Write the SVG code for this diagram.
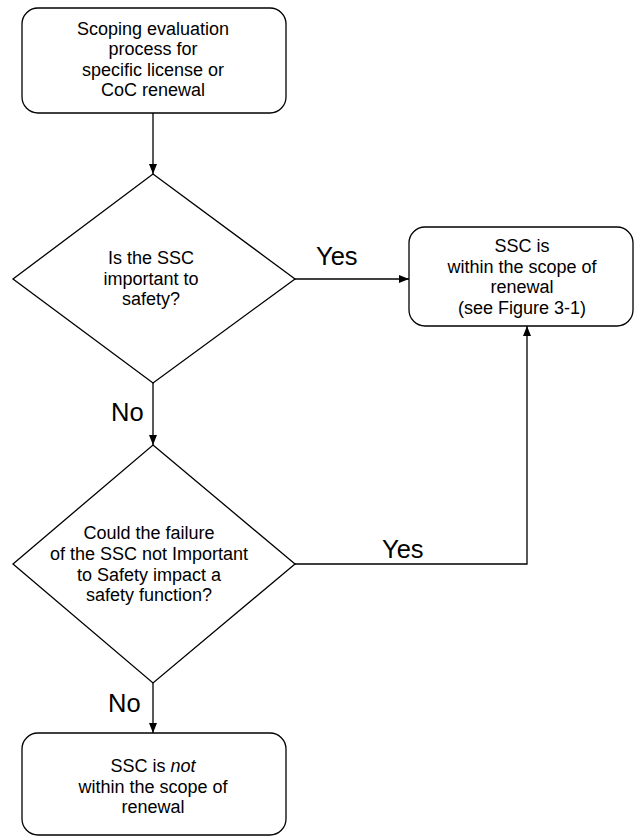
<svg xmlns="http://www.w3.org/2000/svg" width="635" height="837" viewBox="0 0 635 837">
<style>
.box{fill:#fff;stroke:#000;stroke-width:1.3}
.t{font-family:"Liberation Sans",Arial,sans-serif;font-size:18px;fill:#000;text-anchor:middle}
.lbl{font-family:"Liberation Sans",Arial,sans-serif;font-size:25.5px;fill:#000}
.c{fill:none;stroke:#000;stroke-width:1.3}
</style>
<defs>
<marker id="ah" viewBox="0 0 10 10" refX="10" refY="5" markerWidth="10" markerHeight="10" markerUnits="userSpaceOnUse" orient="auto">
<path d="M0,1 L10,5 L0,9 Z" fill="#000"/>
</marker>
</defs>
<g id="connectors">
<path class="c" d="M153,113 V174" marker-end="url(#ah)"/>
<path class="c" d="M295,279 H409" marker-end="url(#ah)"/>
<path class="c" d="M153,383 V445" marker-end="url(#ah)"/>
<path class="c" d="M295,564 H527 V326" marker-end="url(#ah)"/>
<path class="c" d="M153,683 V733" marker-end="url(#ah)"/>
<text class="lbl" x="316" y="265">Yes</text>
<text class="lbl" x="111" y="421">No</text>
<text class="lbl" x="382" y="558">Yes</text>
<text class="lbl" x="108" y="712">No</text>
</g>
<g id="start">
<rect class="box" x="22" y="8" width="264" height="105" rx="16"/>
<text class="t"><tspan x="153" y="35">Scoping evaluation</tspan><tspan x="153" y="55">process for</tspan><tspan x="153" y="76">specific license or</tspan><tspan x="153" y="96">CoC renewal</tspan></text>
</g>
<g id="decision1">
<polygon class="box" points="153,174 295,279 153,383 13,279"/>
<text class="t"><tspan x="151" y="264">Is the SSC</tspan><tspan x="151" y="285">important to</tspan><tspan x="151" y="305">safety?</tspan></text>
</g>
<g id="in-scope">
<rect class="box" x="409" y="227" width="224" height="99" rx="16"/>
<text class="t"><tspan x="522" y="252">SSC is</tspan><tspan x="522" y="273">within the scope of</tspan><tspan x="522" y="293">renewal</tspan><tspan x="522" y="314">(see Figure 3-1)</tspan></text>
</g>
<g id="decision2">
<polygon class="box" points="153,445 295,564 153,683 13,564"/>
<text class="t"><tspan x="149" y="539">Could the failure</tspan><tspan x="149" y="560">of the SSC not Important</tspan><tspan x="149" y="581">to Safety impact a</tspan><tspan x="149" y="601">safety function?</tspan></text>
</g>
<g id="not-in-scope">
<rect class="box" x="22" y="733" width="264" height="102" rx="16"/>
<text class="t"><tspan x="153" y="772">SSC is <tspan font-style="italic">not</tspan></tspan><tspan x="153" y="793">within the scope of</tspan><tspan x="153" y="813">renewal</tspan></text>
</g>
</svg>
